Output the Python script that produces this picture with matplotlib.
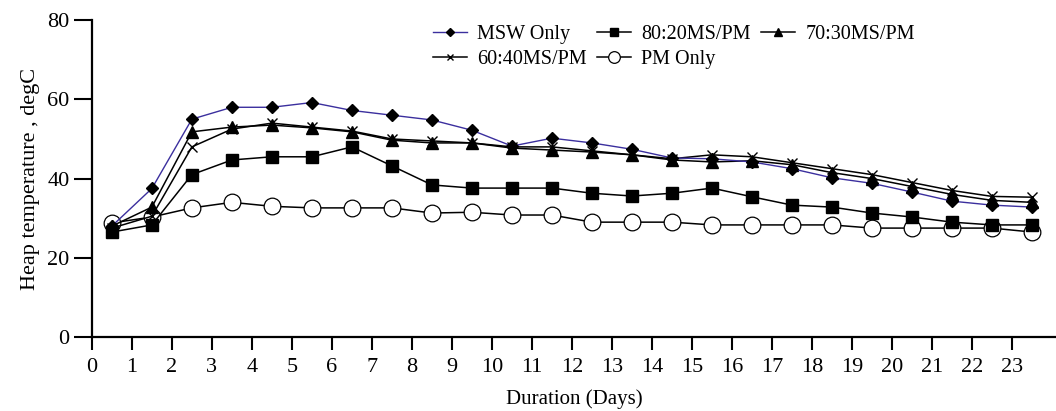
import numpy as np
import matplotlib
matplotlib.use('Agg')
import matplotlib.pyplot as plt

#---DATA---
days = np.arange(24) + 0.5
msw_only = [28, 37.5, 55, 58, 58, 59.2, 57.2, 56, 54.8, 52.2, 48.2, 50.2, 49,
            47.4, 45.2, 45, 44.2, 42.5, 40.2, 38.8, 36.6, 34.3, 33.3, 32.8]
ms_80_20 = [26.5, 28.3, 41, 44.7, 45.5, 45.5, 48, 43.2, 38.4, 37.6, 37.6, 37.6,
            36.3, 35.6, 36.3, 37.6, 35.4, 33.3, 32.8, 31.3, 30.3, 29, 28.3, 28.3]
ms_70_30 = [28, 32.8, 51.8, 53, 53.5, 52.8, 51.8, 49.7, 49, 49, 47.7, 47.2,
            46.7, 46, 44.7, 44.2, 44.5, 43.5, 41.5, 40, 38, 36, 34.5, 34]
ms_60_40 = [27.5, 30.5, 48, 52.5, 54, 53, 52, 50, 49.5, 49, 48, 48,
            47, 46, 45, 46, 45.5, 44, 42.5, 41, 39, 37, 35.5, 35.3]
pm_only = [28.8, 30.3, 32.6, 34, 33, 32.6, 32.6, 32.6, 31.3, 31.5, 30.8, 30.8,
           29, 29, 29, 28.3, 28.3, 28.3, 28.3, 27.5, 27.5, 27.5, 27.5, 26.5]

x_ticks = list(range(24))
y_ticks = [0, 20, 40, 60, 80]

#---PLOT---
plt.rcParams['font.family'] = ['Liberation Serif', 'DejaVu Serif']

fig = plt.figure(figsize=(10.56, 4.11), dpi=100)
ax = fig.add_axes([0.087, 0.18, 0.913, 0.771])

line_kw = dict(linewidth=1.1, markeredgewidth=1)
h_msw, = ax.plot(days, msw_only, color='#3b2f9e', marker='D', markersize=6.5,
                 markerfacecolor='black', markeredgecolor='black',
                 label='MSW Only', zorder=5, linewidth=1.0)
h_80, = ax.plot(days, ms_80_20, color='black', marker='s', markersize=8,
                label='80:20MS/PM', zorder=4, **line_kw)
h_70, = ax.plot(days, ms_70_30, color='black', marker='^', markersize=8.5,
                label='70:30MS/PM', zorder=4, **line_kw)
h_60, = ax.plot(days, ms_60_40, color='black', marker='x', markersize=7,
                label='60:40MS/PM', zorder=4, **line_kw)
h_pm, = ax.plot(days, pm_only, color='black', marker='o', markersize=12,
                markerfacecolor='white', markeredgecolor='black',
                label='PM Only', zorder=3, linewidth=1.1, markeredgewidth=0.9)

#---FORMATTING---
ax.set_xlim(0, 24.1)
ax.set_ylim(0, 80)
ax.set_xticks(x_ticks)
ax.set_yticks(y_ticks)
ax.tick_params(axis='both', labelsize=16, width=1.5, direction='out')
ax.tick_params(axis='y', length=13, pad=3)
ax.tick_params(axis='x', length=9, pad=6)

for pos in ['top', 'right']:
    ax.spines[pos].set_visible(False)
for pos in ['left', 'bottom']:
    ax.spines[pos].set_linewidth(1.6)

ax.set_ylabel('Heap temperature , degC', fontsize=16, labelpad=5)
ax.set_xlabel('Duration (Days)', fontsize=15, labelpad=9)

#legend in row order (column-major fill, so reorder)
handles = [h_msw, h_60, h_80, h_pm, h_70]
ax.legend(handles=handles, labels=[h.get_label() for h in handles],
          ncol=3, frameon=False, fontsize=14.5, markerscale=0.7,
          handlelength=1.7, handletextpad=0.5, columnspacing=0.5,
          labelspacing=0.3, loc='upper left',
          bbox_to_anchor=(0.41, 0.94), bbox_transform=fig.transFigure,
          borderaxespad=0, borderpad=0)

plt.savefig('out.png', dpi=100)
